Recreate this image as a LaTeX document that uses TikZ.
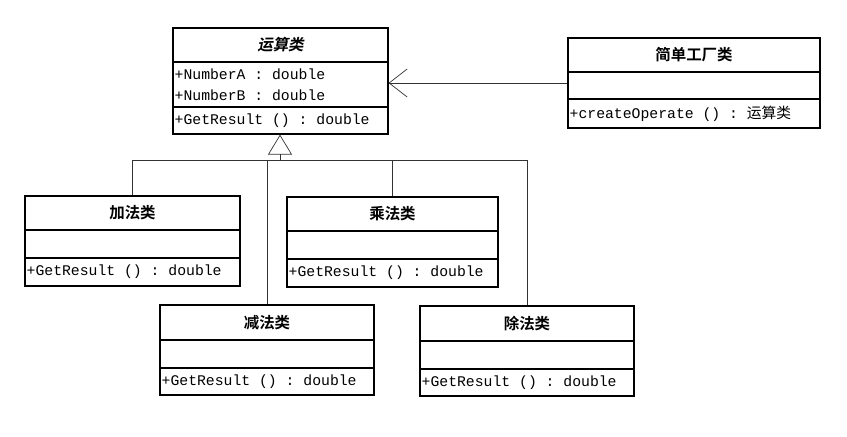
\documentclass[tikz,border=0pt]{standalone}
\usepackage{fontspec}
\setmonofont{Liberation Mono}
\newfontfamily\cjk{Noto Sans CJK SC}
\newfontfamily\cjkbold{Noto Sans CJK SC Bold}
\newfontfamily\cjkslant[FakeSlant=0.2]{Noto Sans CJK SC Bold}
\usetikzlibrary{fit,arrows.meta}
\tikzset{
  classbox/.style={draw=black, thick, inner sep=0pt},
  title/.style={font=\cjkbold\fontsize{11}{13}\selectfont},
  member/.style={font=\ttfamily\fontsize{10.5}{12}\selectfont, anchor=west, inner sep=1pt},
  link/.style={draw=black!80, line width=0.5pt}
}
% name, x1, y1, x2, y2, sep1, sep2, title, operation
\newcommand{\umlclass}[9]{%
  \coordinate (#1-nw) at (#2,#3);
  \coordinate (#1-se) at (#4,#5);
  \node[classbox, fit=(#1-nw)(#1-se)] (#1) {};
  \draw[thick] (#2,#6) -- (#4,#6);
  \draw[thick] (#2,#7) -- (#4,#7);
  \node[title] (#1-title) at ({(#2+#4)/2},{(#3+#6)/2}) {#8};
  \node[member] (#1-ops) at (#2,{(#7+#5)/2}) {#9};
}
\begin{document}
\begin{tikzpicture}[x=0.025cm, y=-0.025cm]
\useasboundingbox (0,0) rectangle (847,436);
\umlclass{oper}{173}{28}{388}{134}{62}{107}{\cjkslant 运算类}{+GetResult () : double}
\node[member] (oper-a) at (173,74) {+NumberA  : double};
\node[member] (oper-b) at (173,95) {+NumberB  : double};
\umlclass{factory}{568}{38}{820}{128}{72}{99}{简单工厂类}{+createOperate () : {\cjk 运算类}}
\umlclass{add}{25}{196}{240}{286}{230}{258}{加法类}{+GetResult () : double}
\umlclass{mul}{287}{197}{498}{287}{231}{259}{乘法类}{+GetResult () : double}
\umlclass{sub}{160}{305}{374}{395}{340}{368}{减法类}{+GetResult () : double}
\umlclass{div}{420}{306}{634}{396}{341}{369}{除法类}{+GetResult () : double}

\coordinate (hub) at (280,160);
\draw[link, -{Triangle[open, length=0.5cm, width=0.6cm]}] (hub) -- (hub |- oper.south);
\draw[link] (add.north) |- (hub);
\draw[link] (mul.north) |- (hub);
\draw[link] (sub.north) |- (hub);
\draw[link] (div.north) |- (hub);

\draw[link, -{Straight Barb[length=0.45cm, width=0.7cm]}] (factory.west) -- (factory.west -| oper.east);
\end{tikzpicture}
\end{document}
